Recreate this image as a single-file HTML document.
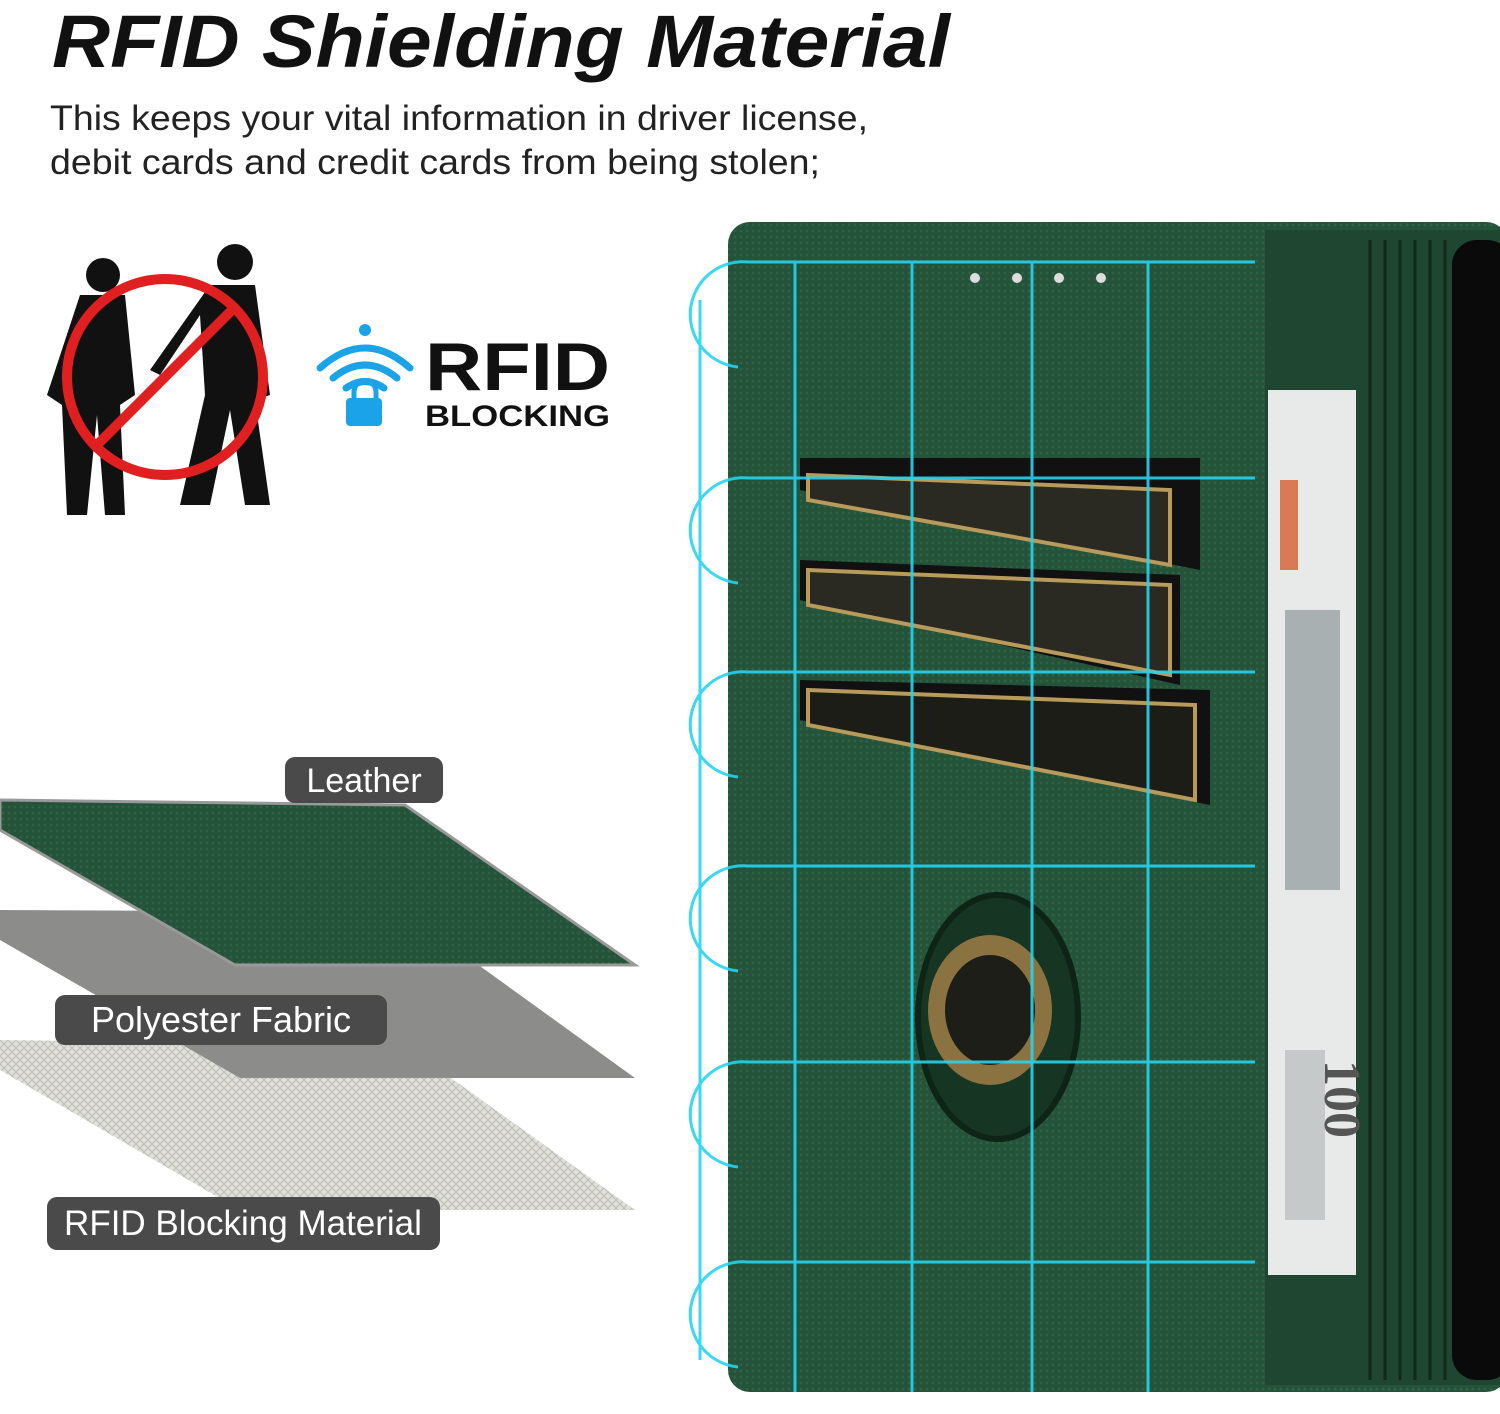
<!DOCTYPE html>
<html><head><meta charset="utf-8"><style>
html,body{margin:0;padding:0;background:#fff;}
svg{display:block}
</style></head><body>
<svg width="1500" height="1414" viewBox="0 0 1500 1414" xmlns="http://www.w3.org/2000/svg">
<defs>
<pattern id="grain" width="6" height="6" patternUnits="userSpaceOnUse"><rect width="6" height="6" fill="#24533a"/><circle cx="3" cy="3" r="1.4" fill="#2e6246"/></pattern>
<pattern id="mesh" width="8" height="8" patternUnits="userSpaceOnUse"><rect width="8" height="8" fill="#e0e0da"/><path d="M0 0L8 8M8 0L0 8" stroke="#bdbdb5" stroke-width="1"/></pattern>
</defs>
<rect width="1500" height="1414" fill="#fff"/>
<text x="52" y="67" textLength="898" lengthAdjust="spacingAndGlyphs" font-family="Liberation Sans, sans-serif" font-size="74" font-weight="bold" font-style="italic" fill="#111">RFID Shielding Material</text>
<text x="50" y="130" textLength="818" lengthAdjust="spacingAndGlyphs" font-family="Liberation Sans, sans-serif" font-size="35" fill="#222">This keeps your vital information in driver license,</text>
<text x="50" y="174" textLength="770" lengthAdjust="spacingAndGlyphs" font-family="Liberation Sans, sans-serif" font-size="35" fill="#222">debit cards and credit cards from being stolen;</text>

<!-- people icon -->
<g fill="#111">
<circle cx="103" cy="275" r="17"/><path d="M80 295h45l10 100-15 10 5 110h-20l-8-100-10 100h-20l-5-110-15-10z"/>
<circle cx="235" cy="262" r="18"/><path d="M210 285h45l15 110-15 5 15 105h-25l-15-95-20 95h-30l25-110-5-80-40 60-10-5z"/>
</g>
<circle cx="165" cy="377" r="98" fill="none" stroke="#e02020" stroke-width="10"/>
<line x1="96" y1="446" x2="234" y2="308" stroke="#e02020" stroke-width="10"/>

<!-- RFID logo -->
<g fill="none" stroke="#1aa3e8" stroke-width="7" stroke-linecap="round">
<path d="M320 368q45 -40 90 0"/><path d="M333 378q32 -26 64 0"/><path d="M346 388q19 -13 38 0"/>
</g>
<circle cx="365" cy="330" r="6" fill="#1aa3e8"/>
<rect x="346" y="398" width="36" height="28" rx="4" fill="#1aa3e8"/>
<path d="M354 400v-8a11 11 0 0 1 22 0v8" fill="none" stroke="#1aa3e8" stroke-width="5"/>
<text x="425" y="390" textLength="185" lengthAdjust="spacingAndGlyphs" font-family="Liberation Sans, sans-serif" font-size="68" font-weight="bold" fill="#111">RFID</text>
<text x="425" y="426" textLength="185" lengthAdjust="spacingAndGlyphs" font-family="Liberation Sans, sans-serif" font-size="30" font-weight="bold" fill="#111">BLOCKING</text>

<!-- layers -->
<polygon points="0,1040 405,1045 635,1210 240,1210 0,1070" fill="url(#mesh)"/>
<polygon points="0,910 405,912 635,1078 240,1078 0,940" fill="#8c8c8a"/>
<polygon points="0,800 405,805 635,965 235,965 0,830" fill="url(#grain)" stroke="#999" stroke-width="3"/>
<rect x="285" y="757" width="158" height="46" rx="10" fill="#4a4a4a"/>
<text x="364" y="792" text-anchor="middle" font-family="Liberation Sans, sans-serif" font-size="34" fill="#fff">Leather</text>
<rect x="55" y="995" width="332" height="50" rx="10" fill="#4a4a4a"/>
<text x="221" y="1032" text-anchor="middle" font-family="Liberation Sans, sans-serif" font-size="36" fill="#fff">Polyester Fabric</text>
<rect x="47" y="1197" width="393" height="53" rx="10" fill="#4a4a4a"/>
<text x="243" y="1235" text-anchor="middle" font-family="Liberation Sans, sans-serif" font-size="35" fill="#fff">RFID Blocking Material</text>

<!-- wallet -->
<rect x="728" y="222" width="780" height="1170" rx="22" fill="url(#grain)"/>
<rect x="1265" y="230" width="240" height="1155" fill="#1e4630"/>
<g stroke="#0f2a1a" stroke-width="3">
<line x1="1370" y1="240" x2="1370" y2="1380"/><line x1="1385" y1="240" x2="1385" y2="1380"/><line x1="1400" y1="240" x2="1400" y2="1380"/><line x1="1415" y1="240" x2="1415" y2="1380"/><line x1="1430" y1="240" x2="1430" y2="1380"/><line x1="1445" y1="240" x2="1445" y2="1380"/>
</g>
<rect x="1452" y="240" width="60" height="1140" rx="25" fill="#0a0a0a"/>
<rect x="1268" y="390" width="88" height="885" fill="#e8eaea"/>
<rect x="1280" y="480" width="18" height="90" fill="#d97a55"/>
<rect x="1285" y="610" width="55" height="280" fill="#a9b0b2"/>
<rect x="1285" y="1050" width="40" height="170" fill="#c5c9ca"/>
<text x="0" y="0" transform="translate(1325,1060) rotate(90)" font-family="Liberation Serif, serif" font-size="52" font-weight="bold" fill="#555">100</text>
<circle cx="975" cy="278" r="5" fill="#ddd"/><circle cx="1017" cy="278" r="5" fill="#ddd"/><circle cx="1059" cy="278" r="5" fill="#ddd"/><circle cx="1101" cy="278" r="5" fill="#ddd"/>
<!-- cards -->
<g>
<polygon points="800,458 1200,458 1200,570 800,490" fill="#111"/>
<polygon points="808,475 1170,490 1170,565 808,500" fill="#2a2a22" stroke="#b89a5a" stroke-width="4"/>
<polygon points="800,560 1180,575 1180,685 800,600" fill="#111"/>
<polygon points="808,570 1170,585 1170,675 808,605" fill="#2a2a22" stroke="#b89a5a" stroke-width="4"/>
<polygon points="800,680 1210,690 1210,805 800,720" fill="#111"/>
<polygon points="808,690 1195,705 1195,800 808,725" fill="#1d1d18" stroke="#b89a5a" stroke-width="4"/>
</g>
<ellipse cx="998" cy="1017" rx="80" ry="122" fill="#163522" stroke="#0e2416" stroke-width="6"/>
<ellipse cx="990" cy="1010" rx="62" ry="75" fill="#8a7340"/>
<ellipse cx="990" cy="1010" rx="45" ry="55" fill="#1e1e18"/>
<!-- cyan grid -->
<g stroke="#27d3f0" stroke-width="3" fill="none" opacity="0.9">
<line x1="795" y1="262" x2="795" y2="1392"/><line x1="912" y1="262" x2="912" y2="1392"/><line x1="1032" y1="262" x2="1032" y2="1392"/><line x1="1148" y1="262" x2="1148" y2="1392"/>
<path d="M1255 262H748a48 48 0 0 0 -10 105"/>
<path d="M1255 478H748a48 48 0 0 0 -10 105"/>
<path d="M1255 672H748a48 48 0 0 0 -10 105"/>
<path d="M1255 866H748a48 48 0 0 0 -10 105"/>
<path d="M1255 1062H748a48 48 0 0 0 -10 105"/>
<path d="M1255 1262H748a48 48 0 0 0 -10 105"/>
<line x1="700" y1="300" x2="700" y2="1360"/>
</g>
</svg>
</body></html>
